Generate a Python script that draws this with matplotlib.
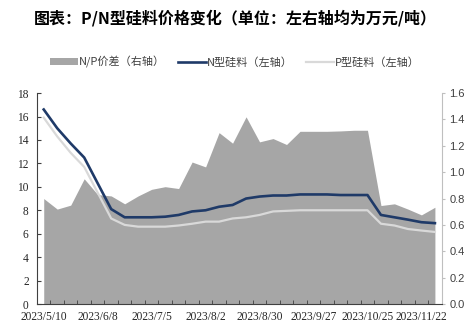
import numpy as np
import matplotlib
matplotlib.use('Agg')
import matplotlib.pyplot as plt
from matplotlib.patches import Patch
from matplotlib.lines import Line2D

plt.rcParams['font.family'] = ['Noto Sans CJK SC', 'DejaVu Sans']

dates = ['2023/5/10', '2023/5/17', '2023/5/24', '2023/5/31', '2023/6/8', '2023/6/14',
         '2023/6/21', '2023/6/28', '2023/7/5', '2023/7/12', '2023/7/19', '2023/7/26',
         '2023/8/2', '2023/8/9', '2023/8/16', '2023/8/23', '2023/8/30', '2023/9/6',
         '2023/9/13', '2023/9/20', '2023/9/27', '2023/10/4', '2023/10/11', '2023/10/18',
         '2023/10/25', '2023/11/1', '2023/11/8', '2023/11/15', '2023/11/22', '2023/11/29']

n_price = [16.6, 15.0, 13.7, 12.5, 10.3, 8.1, 7.4, 7.4, 7.4, 7.45,
           7.6, 7.9, 8.0, 8.3, 8.45, 9.0, 9.17, 9.26, 9.26, 9.35,
           9.35, 9.35, 9.3, 9.3, 9.3, 7.6, 7.4, 7.2, 6.98, 6.9]
p_price = [15.9, 14.3, 12.9, 11.7, 9.5, 7.3, 6.75, 6.6, 6.6, 6.6,
           6.7, 6.85, 7.03, 7.03, 7.3, 7.4, 7.6, 7.9, 7.95, 8.0,
           8.0, 8.0, 8.0, 8.0, 8.0, 6.85, 6.7, 6.4, 6.27, 6.15]
spread = [0.80, 0.72, 0.75, 0.95, 0.83, 0.82, 0.76, 0.82, 0.87, 0.89,
          0.876, 1.077, 1.04, 1.30, 1.22, 1.42, 1.23, 1.255, 1.21, 1.31,
          1.31, 1.31, 1.313, 1.318, 1.318, 0.747, 0.76, 0.72, 0.676, 0.734]

x = np.arange(len(dates))

fig = plt.figure(figsize=(4.7, 3.23), dpi=100)
ax1 = fig.add_axes([0.0787, 0.0588, 0.861, 0.653])
ax2 = ax1.twinx()

fill_c = '#a6a6a6'
n_c = '#1f3a68'
p_c = '#d9d9d9'

ax2.fill_between(x, 0, spread, color=fill_c, linewidth=0)
ax2.set_ylim(0, 1.6)
ax2.set_yticks(np.arange(0, 1.61, 0.2))
ax2.set_yticklabels([f'{v:.1f}' for v in np.arange(0, 1.61, 0.2)],
                    family='Liberation Sans', fontsize=8, color='#404040')

ax1.set_zorder(ax2.get_zorder() + 1)
ax1.patch.set_visible(False)
ax1.plot(x, p_price, color=p_c, lw=1.6, solid_joinstyle='round')
ax1.plot(x, n_price, color=n_c, lw=1.9, solid_joinstyle='round')
ax1.set_ylim(0, 18)
ax1.set_yticks(np.arange(0, 19, 2))
ax1.set_yticklabels([str(v) for v in range(0, 19, 2)],
                    family='Liberation Serif', fontsize=8.3, color='#262626')
ax1.set_xlim(-0.5, len(dates) - 0.5)
ax1.set_xticks(x[::4])
ax1.set_xticklabels(dates[::4], family='Liberation Serif', fontsize=8.3, color='#262626')
ax1.set_xticks(np.arange(0.5, len(dates) - 0.5, 1), minor=True)
ax1.tick_params(axis='x', which='major', length=0, pad=5)
ax1.tick_params(axis='x', which='minor', direction='in', length=3, color='#404040')
ax1.tick_params(axis='y', direction='in', length=3, pad=6, color='#404040')
ax2.tick_params(axis='y', direction='out', length=2.5, pad=3, color='#bfbfbf')

for s in ['top', 'right']:
    ax1.spines[s].set_visible(False)
for s in ['top', 'left', 'bottom']:
    ax2.spines[s].set_visible(False)
ax1.spines['left'].set_color('#404040')
ax1.spines['bottom'].set_color('#404040')
ax2.spines['right'].set_color('#bfbfbf')

fig.text(0.5, 0.944, '图表：P/N型硅料价格变化（单位：左右轴均为万元/吨）',
         ha='center', va='center', fontsize=11.5, fontweight='bold', color='#000000')

handles = [Patch(facecolor=fill_c, edgecolor='none'),
           Line2D([], [], color=n_c, lw=1.9),
           Line2D([], [], color=p_c, lw=1.6)]
labels = ['N/P价差（右轴）', 'N型硅料（左轴）', 'P型硅料（左轴）']
fig.legend(handles, labels, loc='center', bbox_to_anchor=(0.5, 0.808), ncol=3,
           frameon=False, fontsize=8, handlelength=2.5, handleheight=0.55,
           handletextpad=0.1, columnspacing=1.2, labelcolor='#404040')

fig.savefig('out.png', dpi=100)
